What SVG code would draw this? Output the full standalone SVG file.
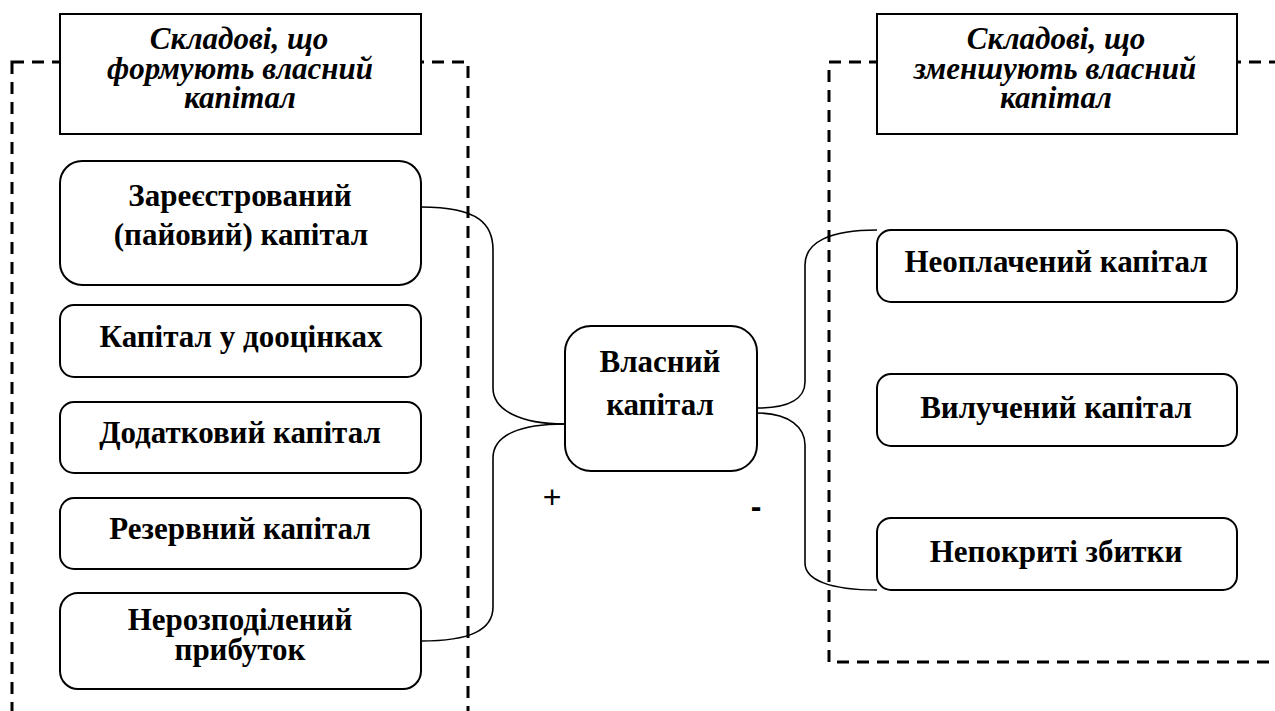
<svg xmlns="http://www.w3.org/2000/svg" width="1275" height="711" viewBox="0 0 1275 711">
<style>
.frame{fill:none;stroke:#000;stroke-width:3;stroke-dasharray:12 8}
.hdr{fill:#fff;stroke:#000;stroke-width:2}
.box{fill:#fff;stroke:#000;stroke-width:2}
.conn{fill:none;stroke:#000;stroke-width:1.6}
</style>
<rect width="1275" height="711" fill="#fff"/>
<g id="frames">
<rect class="frame" x="12" y="62" width="456" height="670"/>
<rect class="frame" x="829" y="62" width="470" height="600"/>
</g>
<g id="connectors">
<path class="conn" d="M421,207 C480,207 493,225 493,250 L493,388 C493,410 520,424 565,424"/>
<path class="conn" d="M565,424 C520,424 493,435 493,458 L493,607 C493,630 470,641 421,641"/>
<path class="conn" d="M877,230 C830,230 805,242 805,265 L805,382 C805,398 790,408 757,408"/>
<path class="conn" d="M757,413 C790,413 805,428 805,445 L805,563 C805,580 830,590 877,590"/>
</g>
<g font-family="Liberation Serif, Times New Roman, serif" text-anchor="middle" fill="#000" font-weight="bold">
<g id="hdr-left" font-style="italic" font-size="31">
<rect class="hdr" x="60" y="14" width="361" height="120"/>
<text x="239" y="49">Складові, що</text>
<text x="240" y="79">формують власний</text>
<text x="240" y="108">капітал</text>
</g>
<g id="hdr-right" font-style="italic" font-size="31">
<rect class="hdr" x="877" y="14" width="360" height="120"/>
<text x="1056" y="49">Складові, що</text>
<text x="1055" y="79">зменшують власний</text>
<text x="1056" y="108">капітал</text>
</g>
<g id="n-zareyestr" font-size="31">
<rect class="box" x="60" y="161" width="361" height="124" rx="22"/>
<text x="240" y="206">Зареєстрований</text>
<text x="241" y="245">(пайовий) капітал</text>
</g>
<g id="n-doocinky" font-size="31">
<rect class="box" x="60" y="305" width="361" height="72" rx="14"/>
<text x="241" y="347">Капітал у дооцінках</text>
</g>
<g id="n-dodatkovyi" font-size="31">
<rect class="box" x="60" y="402" width="361" height="71" rx="14"/>
<text x="240" y="443">Додатковий капітал</text>
</g>
<g id="n-rezervnyi" font-size="31">
<rect class="box" x="60" y="498" width="361" height="71" rx="14"/>
<text x="240" y="539">Резервний капітал</text>
</g>
<g id="n-nerozpodil" font-size="31">
<rect class="box" x="60" y="593" width="361" height="96" rx="18"/>
<text x="240" y="630">Нерозподілений</text>
<text x="240" y="660">прибуток</text>
</g>
<g id="n-vlasnyi" font-size="31">
<rect class="box" x="565" y="326" width="192" height="145" rx="26"/>
<text x="660" y="372">Власний</text>
<text x="660" y="415">капітал</text>
</g>
<g id="n-neoplach" font-size="31">
<rect class="box" x="877" y="230" width="360" height="72" rx="14"/>
<text x="1056" y="272">Неоплачений капітал</text>
</g>
<g id="n-viluch" font-size="31">
<rect class="box" x="877" y="374" width="360" height="72" rx="14"/>
<text x="1056" y="418">Вилучений капітал</text>
</g>
<g id="n-nepokryti" font-size="31">
<rect class="box" x="877" y="518" width="360" height="72" rx="14"/>
<text x="1056" y="562">Непокриті збитки</text>
</g>
</g>
<g id="signs" font-family="Liberation Sans, Arial, sans-serif" text-anchor="middle" font-size="32" fill="#000">
<text x="552" y="508">+</text>
<text x="756" y="517" font-weight="bold">-</text>
</g>
</svg>
